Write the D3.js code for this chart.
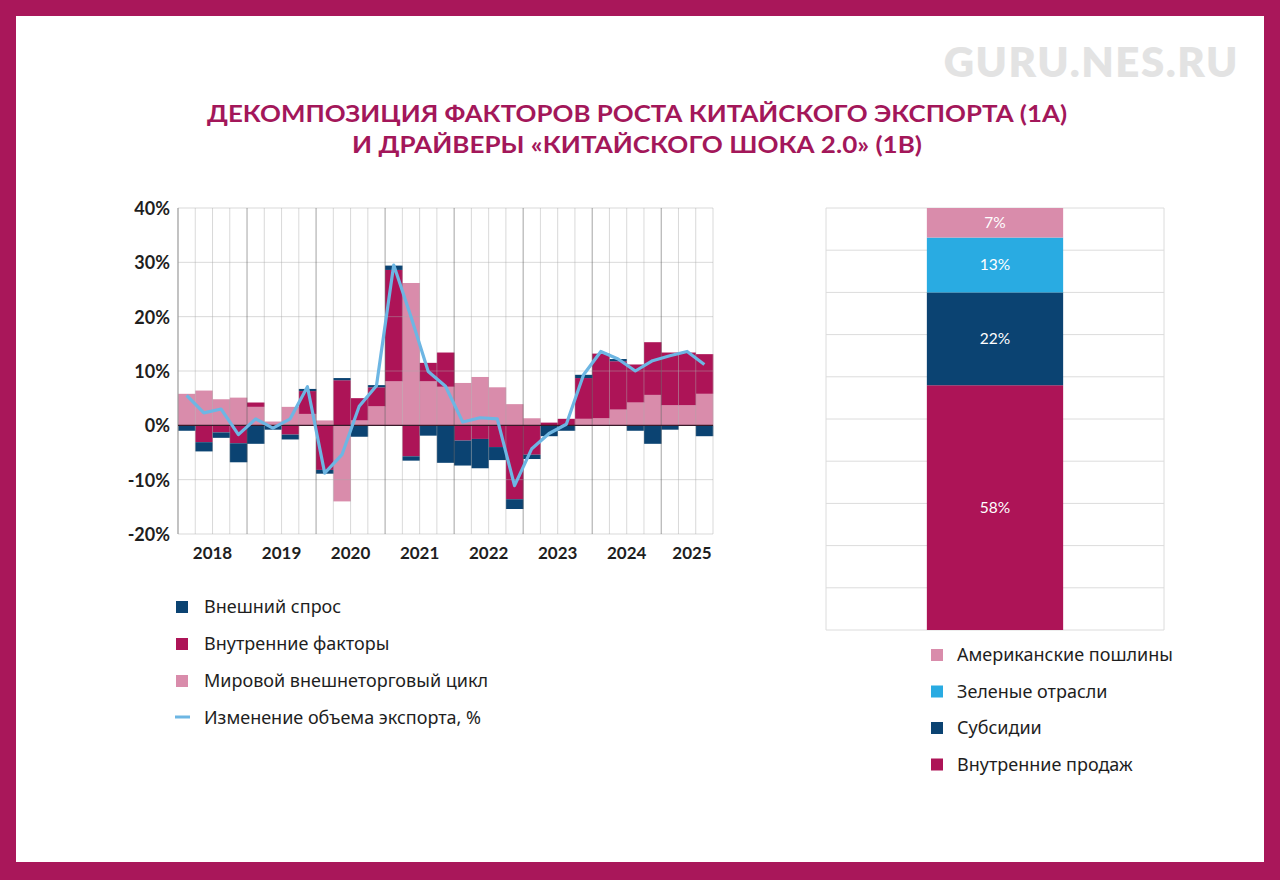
<!DOCTYPE html>
<html><head><meta charset="utf-8">
<script src="https://cdn.jsdelivr.net/npm/d3@7"></script>
<style>
html,body{margin:0;padding:0;background:#fff;}
svg{display:block;font-family:Lato,"Noto Sans",sans-serif;}
</style></head>
<body>
<svg id="c" width="1280" height="880"></svg>
<script>
// ---------- data ----------
const years = ["2018","2019","2020","2021","2022","2023","2024","2025"];
const quarters = d3.range(31); // 2018Q1 .. 2025Q3
// Мировой внешнеторговый цикл
const worldCycle = [5.8,6.4,4.8,5.1,3.4,0.7,3.4,2.1,0.9,-14.0,0.9,3.5,8.1,26.2,8.1,7.1,7.8,8.9,7.0,3.9,1.3,0.0,0.0,1.2,1.3,2.9,4.2,5.6,3.7,3.7,5.8];
// Внутренние факторы
const domestic = [0.0,-3.1,-1.3,-3.3,0.8,0.0,-1.7,4.2,-8.2,8.3,4.1,3.5,20.5,-5.7,3.4,6.3,-2.8,-2.5,-4.0,-13.6,-5.4,0.5,1.2,7.5,11.9,8.9,7.0,9.7,9.7,9.7,7.3];
// Внешний спрос
const external = [-1.0,-1.7,-1.0,-3.5,-3.4,-0.8,-0.9,0.4,-0.7,0.4,-2.1,0.4,0.8,-0.8,-1.9,-6.9,-4.6,-5.4,-2.4,-1.8,-0.8,-2.0,-1.0,0.6,0.0,0.4,-1.0,-3.4,-0.8,0.0,-2.0];
// Изменение объема экспорта, %
const exportChange = [5.5,2.3,3.0,-1.7,1.2,-0.5,1.2,7.1,-8.8,-5.4,3.5,7.3,29.5,20.0,9.9,7.2,0.6,1.4,1.2,-11.1,-4.3,-1.5,0.2,9.3,13.6,12.2,10.0,11.9,12.8,13.6,11.2];
const yTicks = [-20,-10,0,10,20,30,40];

const leftLegend = ["Внешний спрос","Внутренние факторы","Мировой внешнеторговый цикл","Изменение объема экспорта, %"];

const rightCats = ["Внутренние продаж","Субсидии","Зеленые отрасли","Американские пошлины"];
const rightVals = [58,22,13,7];

const title1 = "ДЕКОМПОЗИЦИЯ ФАКТОРОВ РОСТА КИТАЙСКОГО ЭКСПОРТА (1А)";
const title2 = "И ДРАЙВЕРЫ «КИТАЙСКОГО ШОКА 2.0» (1В)";

// ---------- styles ----------
const C = {frame:"#a9175a", maroon:"#ad1457", pink:"#d98cab", navy:"#0b4372", line:"#6db6e3", sky:"#29abe2", title:"#a3175a"};
const LEG_FONT = "'Noto Sans',Lato,sans-serif";

const svg = d3.select("#c");
// frame
svg.append("rect").attr("x",0).attr("y",0).attr("width",1280).attr("height",880).attr("fill",C.frame);
svg.append("rect").attr("x",16).attr("y",16).attr("width",1248).attr("height",846).attr("fill","#fff");

// watermark
svg.append("text").attr("x",1239).attr("y",77).attr("text-anchor","end")
  .attr("font-size",42).attr("font-weight",800).attr("fill","#e3e3e3").attr("letter-spacing",1.5)
  .text("GURU.NES.RU");

// title
svg.append("text").attr("x",637).attr("y",122).attr("text-anchor","middle")
  .attr("font-size",23).attr("font-weight",700).attr("fill",C.title)
  .attr("textLength",860).attr("lengthAdjust","spacingAndGlyphs").text(title1);
svg.append("text").attr("x",637).attr("y",153).attr("text-anchor","middle")
  .attr("font-size",23).attr("font-weight",700).attr("fill",C.title)
  .attr("textLength",570).attr("lengthAdjust","spacingAndGlyphs").text(title2);

// ---------- left chart ----------
const x = d3.scaleBand().domain(quarters).range([178,713]).padding(0);
const y = d3.scaleLinear().domain([-20,40]).range([534,208]);
const bw = x.bandwidth();

const rows = quarters.map(i => ({i, cyc:worldCycle[i], dom:domestic[i], ext:external[i]}));
const keys = ["cyc","dom","ext"];
const colors = {cyc:C.pink, dom:C.maroon, ext:C.navy};
const stack = d3.stack().keys(keys).offset(d3.stackOffsetDiverging)(rows);

const gl = svg.append("g");
gl.selectAll("g.s").data(stack).join("g").attr("fill", d => colors[d.key])
  .selectAll("rect").data(d => d).join("rect")
  .attr("x", d => x(d.data.i))
  .attr("width", bw+0.3)
  .attr("y", d => y(Math.max(d[0],d[1])))
  .attr("height", d => Math.abs(y(d[0])-y(d[1])));

// grid on top (semi-transparent)
gl.append("g").selectAll("line.h").data(yTicks.filter(t=>t!==0)).join("line")
  .attr("x1",178).attr("x2",713).attr("y1",d=>y(d)).attr("y2",d=>y(d))
  .attr("stroke","rgba(170,170,170,0.45)").attr("stroke-width",1);
gl.append("g").selectAll("line.v").data(d3.range(1,32)).join("line")
  .attr("x1",d=> d<31 ? x(d) : 713).attr("x2",d=> d<31 ? x(d) : 713)
  .attr("y1",208).attr("y2",534)
  .attr("stroke",d=> d%4===0 ? "rgba(90,90,90,0.55)" : "rgba(170,170,170,0.45)")
  .attr("stroke-width",1);
// left axis line
gl.append("line").attr("x1",178).attr("x2",178).attr("y1",208).attr("y2",534).attr("stroke","#9a9a9a").attr("stroke-width",1.2);
// zero line
gl.append("line").attr("x1",178).attr("x2",713).attr("y1",y(0)).attr("y2",y(0)).attr("stroke","#3a1a2a").attr("stroke-width",1.3);

// export line
const lineGen = d3.line().x((d,i)=>x(i)+bw/2).y(d=>y(d));
gl.append("path").datum(exportChange).attr("d",lineGen)
  .attr("fill","none").attr("stroke",C.line).attr("stroke-width",3.2).attr("stroke-linejoin","round");

// y axis labels
const yAxis = d3.axisLeft(y).tickValues(yTicks).tickFormat(d=>d+"%").tickSize(0).tickPadding(8);
const ya = svg.append("g").attr("transform","translate(178,0)").call(yAxis);
ya.select(".domain").remove();
ya.selectAll("text").attr("font-size",18).attr("font-weight",700).attr("fill","#1e1e1e")
  .attr("font-family","Lato,sans-serif").attr("dy","0.36em");

// year labels
svg.append("g").selectAll("text").data(years).join("text")
  .attr("x",(d,i)=> i<7 ? x(i*4)+2*bw : 692)
  .attr("y",559).attr("text-anchor","middle")
  .attr("font-size",17).attr("font-weight",700).attr("fill","#1e1e1e").text(d=>d);

// left legend
const ll = svg.append("g");
const llColors = [C.navy,C.maroon,C.pink];
leftLegend.forEach((t,i)=>{
  const yy = 607 + i*37;
  if(i<3) ll.append("rect").attr("x",176).attr("y",yy-6).attr("width",12).attr("height",12).attr("fill",llColors[i]);
  else ll.append("line").attr("x1",175).attr("x2",190).attr("y1",yy-1).attr("y2",yy-1).attr("stroke",C.line).attr("stroke-width",3);
  ll.append("text").attr("x",204).attr("y",yy).attr("dy","0.35em").attr("font-size",18)
    .attr("font-family",LEG_FONT).attr("fill","#1e1e1e").text(t);
});

// ---------- right chart ----------
const ry = d3.scaleLinear().domain([0,100]).range([630,208]);
const rg = svg.append("g");
rg.selectAll("line").data(d3.range(0,101,10)).join("line")
  .attr("x1",826).attr("x2",1164).attr("y1",d=>ry(d)).attr("y2",d=>ry(d))
  .attr("stroke","#dcdcdc").attr("stroke-width",1);
rg.append("line").attr("x1",826).attr("x2",826).attr("y1",208).attr("y2",630).attr("stroke","#dcdcdc");
rg.append("line").attr("x1",1164).attr("x2",1164).attr("y1",208).attr("y2",630).attr("stroke","#dcdcdc");

const rColors = [C.maroon,C.navy,C.sky,C.pink];
let cum = 0;
const segs = rightVals.map((v,i)=>{ const s={i,v,y0:cum,y1:cum+v}; cum+=v; return s; });
const rx = d3.scaleBand().domain(["A"]).range([826,1164]).paddingInner(0).paddingOuter(0.74);
rg.selectAll("rect.seg").data(segs).join("rect")
  .attr("x",rx("A")).attr("width",rx.bandwidth())
  .attr("y",d=>ry(d.y1)).attr("height",d=>ry(d.y0)-ry(d.y1)).attr("fill",d=>rColors[d.i]);
rg.selectAll("text.lbl").data(segs).join("text")
  .attr("x",rx("A")+rx.bandwidth()/2).attr("y",d=>ry((d.y0+d.y1)/2)).attr("dy","0.35em")
  .attr("text-anchor","middle").attr("font-size",15.5).attr("fill","#fff").text(d=>d.v+"%");

// right legend
const rl = svg.append("g");
const rlOrder = [3,2,1,0];
rlOrder.forEach((k,i)=>{
  const yy = 655 + i*36.5;
  rl.append("rect").attr("x",931).attr("y",yy-6).attr("width",12).attr("height",12).attr("fill",rColors[k]);
  rl.append("text").attr("x",957).attr("y",yy).attr("dy","0.35em").attr("font-size",18)
    .attr("font-family",LEG_FONT).attr("fill","#1e1e1e").text(rightCats[k]);
});
</script>
</body></html>
